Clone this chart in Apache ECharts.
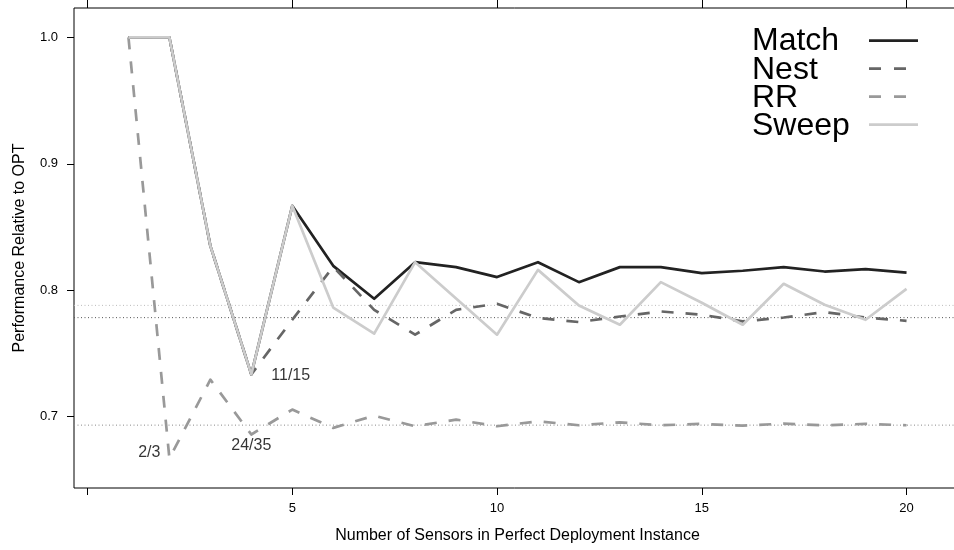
<!DOCTYPE html>
<html><head><meta charset="utf-8">
<script src="https://cdn.jsdelivr.net/npm/echarts@6/dist/echarts.min.js"></script>
<style>html,body{margin:0;padding:0;background:#fff}#c{width:954px;height:550px}</style>
</head><body><div id="c"></div>
<script>
// ---- data ----
const sensors = [1,2,3,4,5,6,7,8,9,10,11,12,13,14,15,16,17,18,19,20];
const matchVals = [1.0,1.0,0.835,0.7333,0.8667,0.8192,0.7931,0.8221,0.8182,0.8103,0.8221,0.8063,0.8182,0.8182,0.8134,0.8153,0.8182,0.8147,0.8166,0.8139];
const nestVals  = [1.0,1.0,0.835,0.7333,0.7765,0.8185,0.7844,0.7647,0.7844,0.7892,0.7779,0.7747,0.7791,0.7831,0.7805,0.7752,0.7783,0.7826,0.7783,0.7757];
const rrVals    = [1.0,0.6667,0.7291,0.6857,0.7054,0.6909,0.7006,0.6922,0.6975,0.6922,0.6961,0.6930,0.6953,0.6930,0.6941,0.6927,0.6943,0.6930,0.6941,0.6930];
const sweepVals = [1.0,1.0,0.835,0.7333,0.8667,0.7862,0.7655,0.8221,0.7934,0.7647,0.8160,0.7878,0.7726,0.8063,0.7900,0.7726,0.8050,0.7884,0.7765,0.8010];
const seriesNames = ['Match','Nest','RR','Sweep'];
const refValues = [0.6931, 0.7782, 0.7879];
const xRange = [-0.33, 21.33];
const yRange = [0.64333, 1.02333];
const xTickValues = [0,5,10,15,20];
const xLabelValues = [5,10,15,20];
const yTickValues = [0.7,0.8,0.9,1.0];
const annotX = [2,4,4];
const annotY = [0.6667,0.7333,0.6857];
const annotText = ['2/3','11/15','24/35'];

// ---- styles ----
const FONT = "'Liberation Sans', Arial, Helvetica, sans-serif";
const colors = ['#222222','#666666','#999999','#cccccc'];
const dashed = [false,true,true,false];
const LW = 2.7;
const refStyles = [
  {color:'#888888', type:[1,2.5], width:1},
  {color:'#555555', type:[1,2.5], width:1},
  {color:'#bbbbbb', type:[1,2.5], width:1}
];
const annotLabel = [
  {position:'left', distance:9, offset:[0,-6]},
  {position:'right', distance:20, offset:[0,1.5]},
  {position:'bottom', distance:3, offset:[0,0]}
];

const valueSets = [matchVals, nestVals, rrVals, sweepVals];
const lineSeries = seriesNames.map((name,k)=>({
  name, type:'line', z:3+k,
  data: sensors.map((x,i)=>[x, valueSets[k][i]]),
  symbol:'none', showSymbol:false, silent:true, animation:false,
  lineStyle:{color:colors[k], width:LW, type: dashed[k]?[12,12]:'solid', cap:'butt', join:'round'}
}));

const refSeries = refValues.map((v,i)=>({
  type:'line', silent:true, z:1, animation:false, symbol:'none', showSymbol:false,
  data: xRange.map(x=>[x, v]),
  lineStyle: refStyles[i]
}));

const annotSeries = {
  type:'scatter', z:10, silent:true, animation:false, symbolSize:0,
  data: annotX.map((x,i)=>({value:[x, annotY[i]], label:Object.assign({show:true}, annotLabel[i])})),
  label:{show:true, color:'#000', fontSize:16, fontFamily:FONT,
    formatter: p => annotText[p.dataIndex]}
};

const legendEls = [];
seriesNames.forEach((name,i)=>{
  legendEls.push({type:'text', x:752, y:41.5+28.2*i, silent:true,
    style:{text:name, fill:'#000', font:'32px '+FONT, align:'left', verticalAlign:'middle'}});
  legendEls.push({type:'line', silent:true,
    shape:{x1:869, y1:40.7+28*i, x2:918, y2:40.7+28*i},
    style:{stroke:colors[i], lineWidth:LW, lineDash: dashed[i]?[12,13]:null}});
});

const chart = echarts.init(document.getElementById('c'), null, {renderer:'canvas'});
chart.setOption({
  backgroundColor:'#fff',
  animation:false,
  textStyle:{fontFamily:FONT},
  grid:{left:74, top:8, right:-7, bottom:62, show:true, borderColor:'#000', borderWidth:1, backgroundColor:'transparent', containLabel:false, outerBoundsMode:'none'},
  xAxis:[{
    type:'value', min:xRange[0], max:xRange[1], position:'bottom',
    name:'Number of Sensors in Perfect Deployment Instance', nameLocation:'middle', nameGap:40,
    nameTextStyle:{fontSize:16, color:'#000', fontFamily:FONT},
    axisLine:{show:false, onZero:false},
    axisTick:{show:true, inside:false, length:7, customValues:xTickValues, lineStyle:{color:'#000'}},
    axisLabel:{show:true, customValues:xLabelValues, margin:14, fontSize:13, color:'#000', fontFamily:FONT},
    splitLine:{show:false}
  },{
    type:'value', min:xRange[0], max:xRange[1], position:'top',
    axisLine:{show:false, onZero:false},
    axisTick:{show:true, inside:false, length:8, customValues:xTickValues, lineStyle:{color:'#000'}},
    axisLabel:{show:false},
    splitLine:{show:false}
  }],
  yAxis:{
    type:'value', min:yRange[0], max:yRange[1], position:'left',
    name:'Performance Relative to OPT', nameLocation:'middle', nameGap:46, nameRotate:90,
    nameTextStyle:{fontSize:16, color:'#000', fontFamily:FONT},
    axisLine:{show:false, onZero:false},
    axisTick:{show:true, inside:false, length:7, customValues:yTickValues, lineStyle:{color:'#000'}},
    axisLabel:{show:true, customValues:yTickValues, margin:16, fontSize:13, color:'#000', fontFamily:FONT,
      formatter: v => Number(v).toFixed(1)},
    splitLine:{show:false}
  },
  graphic: legendEls,
  series: [...refSeries, ...lineSeries, annotSeries]
});
</script>
</body></html>
